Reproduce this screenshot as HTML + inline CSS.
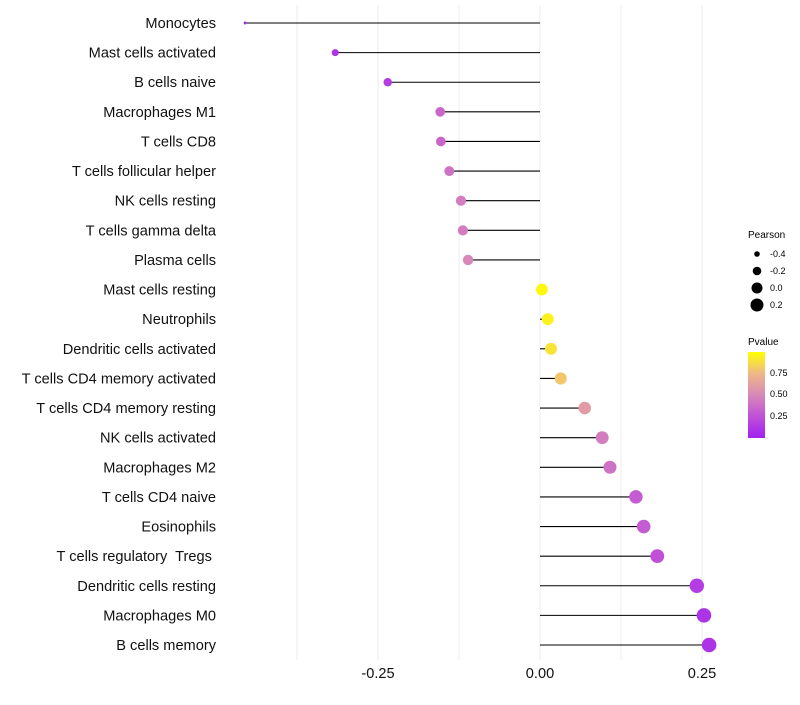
<!DOCTYPE html>
<html><head><meta charset="utf-8"><style>
body{margin:0;background:#fff;font-family:"Liberation Sans",sans-serif}
</style></head><body>
<svg id="chart" width="800" height="700">
<defs><linearGradient id="pg" x1="0" y1="1" x2="0" y2="0">
<stop offset="0" stop-color="#a020f0"/><stop offset="0.25" stop-color="#c050d8"/><stop offset="0.5" stop-color="#d888b8"/><stop offset="0.75" stop-color="#eeb888"/><stop offset="1" stop-color="#ffff00"/></linearGradient></defs>
<g id="grid"></g><g id="marks"></g><g id="labels"></g>
<g font-size="9">
<text x="748" y="238" font-size="10">Pearson</text>
<circle cx="757" cy="254" r="2.8"/><text x="770" y="257">-0.4</text>
<circle cx="757" cy="271" r="4.3"/><text x="770" y="274">-0.2</text>
<circle cx="757" cy="288" r="5.5"/><text x="770" y="291">0.0</text>
<circle cx="757" cy="305" r="6.5"/><text x="770" y="308">0.2</text>
</g>
<g font-size="9">
<text x="748" y="345" font-size="10">Pvalue</text>
<rect x="748" y="352" width="17" height="86" fill="url(#pg)"/>
<text x="770" y="376">0.75</text><text x="770" y="397">0.50</text><text x="770" y="419">0.25</text>
</g>
</svg>
<script>
const categories=["Monocytes","Mast cells activated","B cells naive","Macrophages M1","T cells CD8","T cells follicular helper","NK cells resting","T cells gamma delta","Plasma cells","Mast cells resting","Neutrophils","Dendritic cells activated","T cells CD4 memory activated","T cells CD4 memory resting","NK cells activated","Macrophages M2","T cells CD4 naive","Eosinophils","T cells regulatory\u00a0 Tregs\u00a0","Dendritic cells resting","Macrophages M0","B cells memory"];
const pearson=[-0.455,-0.316,-0.235,-0.154,-0.153,-0.140,-0.122,-0.119,-0.111,0.003,0.012,0.017,0.032,0.069,0.096,0.108,0.148,0.160,0.181,0.242,0.253,0.261];
const pvalue=[0.05,0.1,0.15,0.35,0.35,0.4,0.45,0.45,0.5,0.98,0.95,0.9,0.8,0.6,0.45,0.4,0.3,0.3,0.25,0.15,0.1,0.1];
const ticks=[-0.25,0,0.25];
const tickLabels=["-0.25","0.00","0.25"];
const grids=[-0.375,-0.25,-0.125,0,0.125,0.25];
const NS="http://www.w3.org/2000/svg";
const x=v=>540+v*648;
const y=i=>23+i*(645-23)/(categories.length-1);
const stops=[[0,[160,32,240]],[0.25,[192,80,216]],[0.5,[216,136,184]],[0.75,[238,184,136]],[1,[255,255,0]]];
function col(p){for(let k=1;k<stops.length;k++){if(p<=stops[k][0]){const a=stops[k-1],b=stops[k],t=(p-a[0])/(b[0]-a[0]);return "rgb("+a[1].map((c,j)=>Math.round(c+(b[1][j]-c)*t)).join(",")+")";}}return "rgb(255,255,0)";}
const mn=Math.min(...pearson),mx=Math.max(...pearson);
const rad=v=>Math.sqrt(1.5*1.5+(v-mn)/(mx-mn)*(7.3*7.3-2.25));
const el=(t,a)=>{const e=document.createElementNS(NS,t);for(const k in a)e.setAttribute(k,a[k]);return e;};
const G=document.getElementById("grid"),M=document.getElementById("marks"),L=document.getElementById("labels");
grids.forEach(g=>{const l=el("line",{x1:x(g),x2:x(g),y1:5,y2:660,stroke:"#ededed","stroke-width":1});

G.appendChild(l);});
ticks.forEach((t,i)=>{const tx=el("text",{x:x(t),y:678,"text-anchor":"middle","font-size":14.6,fill:"#111"});tx.textContent=tickLabels[i];

L.appendChild(tx);});
categories.forEach((c,i)=>{
const tx=el("text",{x:216,y:y(i)+5,"text-anchor":"end","font-size":14.6,fill:"#111"});tx.textContent=c;

L.appendChild(tx);
const ln=el("line",{x1:x(0),x2:x(pearson[i]),y1:y(i),y2:y(i),stroke:"#000","stroke-width":1.1});

M.appendChild(ln);
const ci=el("circle",{cx:x(pearson[i]),cy:y(i),r:rad(pearson[i]),fill:col(pvalue[i])});

M.appendChild(ci);
});
</script>
</body></html>
